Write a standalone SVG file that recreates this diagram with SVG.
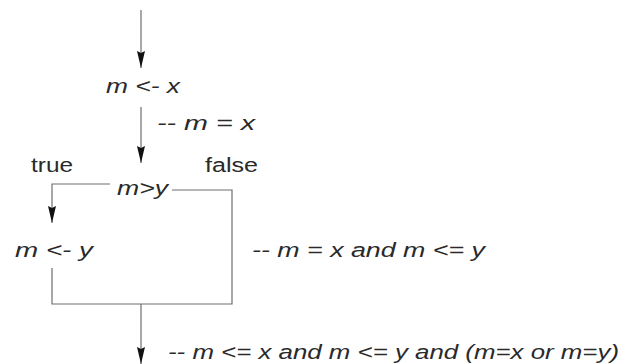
<svg xmlns="http://www.w3.org/2000/svg" width="622" height="364" viewBox="0 0 622 364">
<style>
.t{font-family:"Liberation Sans",Arial,sans-serif;font-size:20px;fill:#2a2a2a}
.i{font-style:italic}
.ln{fill:none;stroke:#6e6e6e;stroke-width:1.2}
.ar{fill:none;stroke:#6e6e6e;stroke-width:1.2;marker-end:url(#ah)}
</style>
<defs>
<marker id="ah" viewBox="0 0 17 8" refX="17" refY="4" markerWidth="17" markerHeight="8" markerUnits="userSpaceOnUse" orient="auto">
<path d="M0,0 L17,4 L0,8 L2,4 z" fill="#111"/>
</marker>
</defs>
<rect width="622" height="364" fill="#fff"/>
<g id="connectors">
<line class="ar" x1="141" y1="10" x2="141" y2="68"/>
<line class="ar" x1="141" y1="107" x2="141" y2="163"/>
<polyline class="ar" points="110,184 52,184 52,223"/>
<polyline class="ln" points="172,190 232,190 232,304 52,304 52,268"/>
<line class="ar" x1="141" y1="304" x2="141" y2="364"/>
</g>
<g id="assign_m_x">
<text class="t i" x="106" y="93" textLength="74" lengthAdjust="spacingAndGlyphs">m &lt;- x</text>
</g>
<g id="test_m_gt_y">
<text class="t i" x="117" y="195" textLength="51" lengthAdjust="spacingAndGlyphs">m&gt;y</text>
</g>
<g id="assign_m_y">
<text class="t i" x="15" y="257" textLength="78" lengthAdjust="spacingAndGlyphs">m &lt;- y</text>
</g>
<g id="labels">
<text class="t i" x="157" y="130" textLength="98" lengthAdjust="spacingAndGlyphs">-- m = x</text>
<text class="t" x="31" y="172" textLength="42" lengthAdjust="spacingAndGlyphs">true</text>
<text class="t" x="205" y="172" textLength="53" lengthAdjust="spacingAndGlyphs">false</text>
<text class="t i" x="252" y="257" textLength="233" lengthAdjust="spacingAndGlyphs">-- m = x and m &lt;= y</text>
<text class="t i" x="168" y="359" textLength="451" lengthAdjust="spacingAndGlyphs">-- m &lt;= x and m &lt;= y and (m=x or m=y)</text>
</g>
</svg>
